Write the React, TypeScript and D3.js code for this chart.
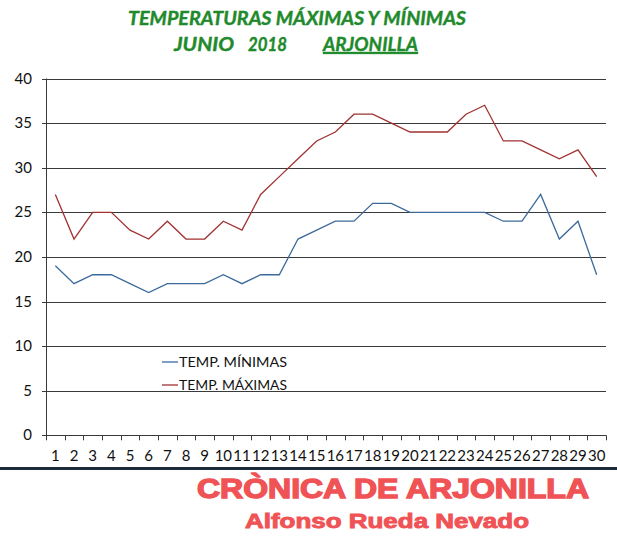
import { useEffect, useRef } from "react";
import * as d3 from "d3";

const width = 617;
const height = 547;

// días de junio 2018
const days = d3.range(1, 31).map(String);
const minTemps = [19, 17, 18, 18, 17, 16, 17, 17, 17, 18, 17, 18, 18, 22, 23, 24, 24, 26, 26, 25, 25, 25, 25, 25, 24, 24, 27, 22, 24, 18];
const maxTemps = [27, 22, 25, 25, 23, 22, 24, 22, 22, 24, 23, 27, 29, 31, 33, 34, 36, 36, 35, 34, 34, 34, 36, 37, 33, 33, 32, 31, 32, 29];
const yTicks = [0, 5, 10, 15, 20, 25, 30, 35, 40];
const seriesNames = ["TEMP. MÍNIMAS", "TEMP. MÁXIMAS"];
const seriesColors = ["#3c6a9c", "#a03232"];

const plot = { left: 46, right: 606, top: 78.5, bottom: 435.3 };

export default function App() {
    const ref = useRef<SVGSVGElement>(null);

    useEffect(() => {
        document.body.style.margin = "0";
        const svg = d3.select(ref.current);
        svg.selectAll("*").remove();

        const x = d3.scaleBand().domain(days).range([plot.left, plot.right]);
        const y = d3.scaleLinear().domain([0, 40]).range([plot.bottom, plot.top]);

        svg.append("rect").attr("width", width).attr("height", height).attr("fill", "#fff");

        // título
        const title = svg.append("g")
            .attr("font-family", "Lato, 'Open Sans', sans-serif")
            .attr("font-weight", "bold")
            .attr("font-style", "italic")
            .attr("fill", "#1f8a2c")
            .attr("stroke", "#1f8a2c").attr("stroke-width", 0.4)
            .attr("font-size", 19.5);
        title.append("text").attr("x", 297).attr("y", 25).attr("text-anchor", "middle")
            .attr("textLength", 338).attr("lengthAdjust", "spacingAndGlyphs")
            .text("TEMPERATURAS MÁXIMAS Y MÍNIMAS");
        title.append("text").attr("x", 174).attr("y", 51)
            .attr("textLength", 60).attr("lengthAdjust", "spacingAndGlyphs")
            .text("JUNIO");
        title.append("text").attr("x", 248).attr("y", 51)
            .attr("textLength", 39).attr("lengthAdjust", "spacingAndGlyphs")
            .text("2018");
        title.append("text").attr("x", 323).attr("y", 51)
            .attr("text-decoration", "underline")
            .attr("textLength", 95).attr("lengthAdjust", "spacingAndGlyphs")
            .text("ARJONILLA");

        // rejilla
        svg.append("g").selectAll("line").data(yTicks).enter().append("line")
            .attr("x1", plot.left - 4).attr("x2", plot.right)
            .attr("y1", (d) => Math.round(y(d)) + 0.5).attr("y2", (d) => Math.round(y(d)) + 0.5)
            .attr("stroke", "#3a3a3a").attr("stroke-width", 1);

        svg.append("line")
            .attr("x1", plot.left + 0.5).attr("x2", plot.left + 0.5)
            .attr("y1", plot.top).attr("y2", plot.bottom)
            .attr("stroke", "#3a3a3a");

        // eje Y
        svg.append("g")
            .attr("font-family", "Lato, 'Open Sans', sans-serif")
            .attr("font-size", 15).attr("fill", "#111")
            .selectAll("text").data(yTicks).enter().append("text")
            .attr("x", 32).attr("y", (d) => y(d) + 5)
            .attr("text-anchor", "end")
            .text((d) => d);

        // eje X
        const ticks = d3.range(0, 31).map((i) => plot.left + i * x.bandwidth());
        svg.append("g").selectAll("line").data(ticks).enter().append("line")
            .attr("x1", (d) => Math.round(d) + 0.5).attr("x2", (d) => Math.round(d) + 0.5)
            .attr("y1", plot.bottom).attr("y2", plot.bottom + 5)
            .attr("stroke", "#3a3a3a");
        svg.append("g")
            .attr("font-family", "Lato, 'Open Sans', sans-serif")
            .attr("font-size", 15).attr("fill", "#111")
            .selectAll("text").data(days).enter().append("text")
            .attr("x", (d) => x(d)! + x.bandwidth() / 2)
            .attr("y", 461)
            .attr("text-anchor", "middle")
            .text((d) => d);

        // líneas
        const line = d3.line<number>()
            .x((_, i) => x(days[i])! + x.bandwidth() / 2)
            .y((d) => y(d));
        [minTemps, maxTemps].forEach((s, i) => {
            svg.append("path")
                .attr("d", line(s))
                .attr("fill", "none")
                .attr("stroke", seriesColors[i])
                .attr("stroke-width", 1.3);
        });

        // leyenda
        const legend = svg.append("g")
            .attr("font-family", "Lato, 'Open Sans', sans-serif")
            .attr("font-size", 14).attr("fill", "#111");
        seriesNames.forEach((name, i) => {
            const ly = 362 + i * 23;
            legend.append("line")
                .attr("x1", 162).attr("x2", 178)
                .attr("y1", ly).attr("y2", ly)
                .attr("stroke", seriesColors[i]).attr("stroke-width", 1.3);
            legend.append("text").attr("x", 179).attr("y", ly + 5)
                .attr("textLength", 108).attr("lengthAdjust", "spacingAndGlyphs")
                .text(name);
        });

        // barra inferior
        svg.append("rect")
            .attr("x", 0).attr("y", 467).attr("width", width).attr("height", 3)
            .attr("fill", "#1d2b3a");

        // pie
        const foot = svg.append("g")
            .attr("font-family", "'Liberation Sans', Arial, sans-serif")
            .attr("font-weight", "bold")
            .attr("fill", "#f05356")
            .attr("stroke", "#f05356")
            .attr("text-anchor", "middle");
        foot.append("text").attr("x", 393).attr("y", 498)
            .attr("font-size", 27).attr("stroke-width", 1.4)
            .attr("textLength", 392).attr("lengthAdjust", "spacingAndGlyphs")
            .text("CRÒNICA DE ARJONILLA");
        foot.append("text").attr("x", 387).attr("y", 528)
            .attr("font-size", 20).attr("stroke-width", 0.9)
            .attr("textLength", 284).attr("lengthAdjust", "spacingAndGlyphs")
            .text("Alfonso Rueda Nevado");
    }, []);

    return (
        <div style={{ position: "absolute", left: 0, top: 0 }}>
            <svg ref={ref} width={width} height={height} style={{ display: "block" }} />
        </div>
    );
}
